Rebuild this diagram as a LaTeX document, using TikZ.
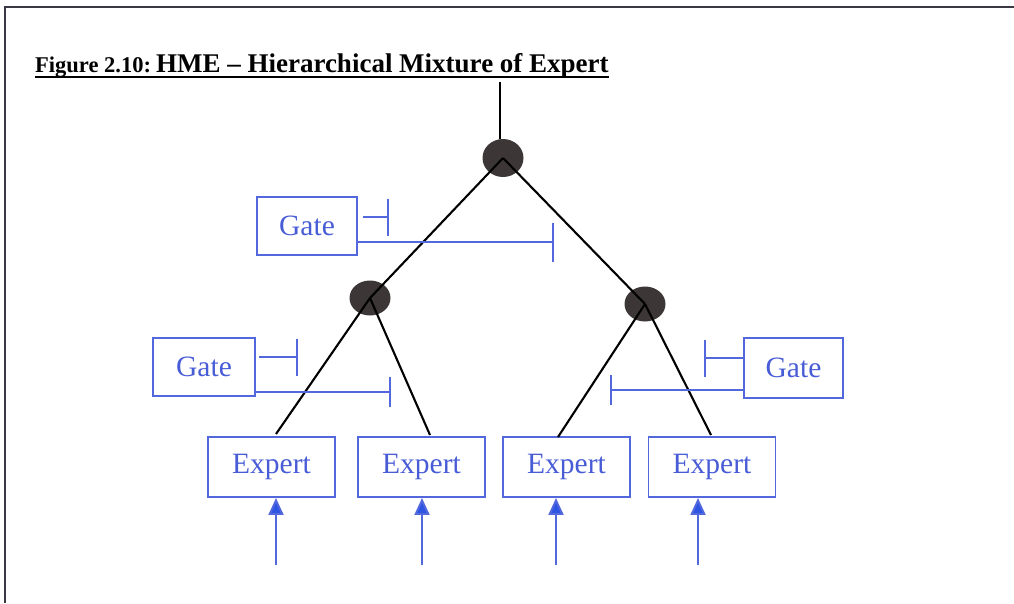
\documentclass[tikz,border=0pt]{standalone}
\usepackage{fontspec}
\setmainfont{Liberation Serif}
\usetikzlibrary{arrows.meta,shapes.geometric,calc}

\definecolor{boxblue}{RGB}{84,104,222}
\definecolor{textblue}{RGB}{72,92,214}
\definecolor{tipblue}{RGB}{45,85,225}
\definecolor{hubgray}{RGB}{60,54,54}
\definecolor{framecol}{RGB}{58,56,66}

\tikzset{
  gatebox/.style={draw=boxblue, line width=1.9pt, text=textblue,
    minimum width=100pt, minimum height=58pt, inner sep=0pt,
    font=\fontsize{29.5}{32}\selectfont},
  expertbox/.style={draw=boxblue, line width=1.9pt, text=textblue,
    minimum width=127pt, minimum height=60pt, inner sep=0pt,
    font=\fontsize{29.5}{32}\selectfont},
  hub/.style={ellipse, fill=hubgray, draw=none, inner sep=0pt,
    minimum width=41pt, minimum height=35pt},
  branch/.style={draw=black, line width=2.1pt},
  gatelink/.style={draw=boxblue, line width=1.9pt},
  inputarrow/.style={draw=boxblue, line width=1.9pt,
    -{Triangle[width=15pt,length=17pt,fill=tipblue]}}
}

\begin{document}
\begin{tikzpicture}[x=1pt,y=-1pt]
\useasboundingbox (0,0) rectangle (1014,603);

% page frame (top and left edges)
\draw[framecol, line width=2.2pt] (5,603) -- (5,7) -- (1014,7);

% caption
\node[anchor=base west, inner sep=0pt, font=\bfseries] (title) at (35,72)
  {\fontsize{22.5}{24}\selectfont Figure 2.10:\hspace{5pt}\fontsize{27}{30}\selectfont HME -- Hierarchical Mixture of Expert};
\draw[black, line width=1.6pt] ([yshift=-5pt]title.base west) -- ([yshift=-5pt]title.base east);

% gating networks
\node[gatebox] (g1) at (307,226) {Gate};
\node[gatebox, minimum width=102pt] (g2) at (204,367) {Gate};
\node[gatebox, minimum width=99pt, minimum height=60pt] (g3) at (793.5,368) {Gate};

% expert networks
\node[expertbox] (e1) at (271.5,467) {Expert};
\node[expertbox] (e2) at (421.5,467) {Expert};
\node[expertbox] (e3) at (566.5,467) {Expert};
\node[expertbox] (e4) at (712,467) {Expert};

% combining nodes
\node[hub, minimum height=38pt] (n0) at (503,158) {};
\node[hub] (n1) at (370,298) {};
\node[hub] (n2) at (645,304) {};

% tree output and branches
\coordinate (out) at (500,82);
\coordinate (t1) at (276,434);
\coordinate (t2) at (430,435);
\coordinate (t3) at (558,437);
\coordinate (t4) at (711,435);
\draw[branch] (out) -- (out |- n0.north);
\draw[branch] (n0.center) -- (n1.center);
\draw[branch] (n0.center) -- (n2.center);
\draw[branch] (n1.center) -- (t1);
\draw[branch] (n1.center) -- (t2);
\draw[branch] (n2.center) -- (t3);
\draw[branch] (n2.center) -- (t4);

% gate outputs with bar ends
\coordinate (s1) at (389,217);
\coordinate (l1) at (554,242);
\coordinate (s2) at (298,357);
\coordinate (l2) at (391,392);
\coordinate (s3) at (704,358);
\coordinate (l3) at (610,390);
\draw[gatelink, -{Bar[width=37pt]}] ([xshift=5pt]g1.east |- s1) -- (s1);
\draw[gatelink, -{Bar[width=39pt]}] (g1.east |- l1) -- (l1);
\draw[gatelink, -{Bar[width=37pt]}] ([xshift=3pt]g2.east |- s2) -- (s2);
\draw[gatelink, -{Bar[width=30pt]}] (g2.east |- l2) -- (l2);
\draw[gatelink, -{Bar[width=37pt]}] (g3.west |- s3) -- (s3);
\draw[gatelink, -{Bar[width=30pt]}] (g3.west |- l3) -- (l3);

% inputs to the experts
\coordinate (i1) at (276,565);
\coordinate (i2) at (422,565);
\coordinate (i3) at (556,565);
\coordinate (i4) at (698,565);
\draw[inputarrow] (i1) -- (i1 |- e1.south);
\draw[inputarrow] (i2) -- (i2 |- e2.south);
\draw[inputarrow] (i3) -- (i3 |- e3.south);
\draw[inputarrow] (i4) -- (i4 |- e4.south);
\end{tikzpicture}
\end{document}
